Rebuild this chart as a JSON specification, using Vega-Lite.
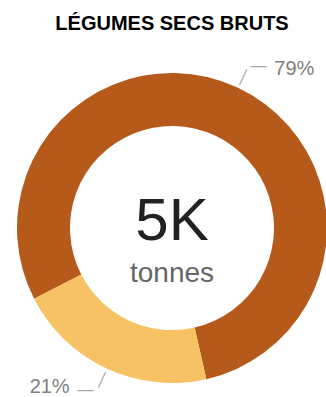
{
  "$schema": "https://vega.github.io/schema/vega-lite/v6.json",
  "autosize": {"type": "none"},
  "width": 308,
  "height": 338,
  "padding": {"left": 18, "top": 59, "right": 0, "bottom": 0},
  "title": {
    "text": "LÉGUMES SECS BRUTS",
    "font": "Liberation Sans",
    "fontSize": 20,
    "fontWeight": "bold",
    "color": "#000000",
    "anchor": "middle",
    "frame": "group",
    "offset": 24
  },
  "datasets": {
    "parts": [
      {"part": "A", "share": 0.79},
      {"part": "B", "share": 0.21}
    ],
    "total": [
      {"total": "5K", "unit": "tonnes"}
    ]
  },
  "data": {"name": "parts"},
  "layer": [
    {
      "mark": {"type": "arc", "innerRadius": 102, "outerRadius": 155},
      "encoding": {
        "theta": {"field": "share", "type": "quantitative", "stack": true, "scale": {"range": [-2.0455, 4.2377]}},
        "color": {"field": "part", "type": "nominal", "scale": {"domain": ["A", "B"], "range": ["#b65a1b", "#f7c263"]}, "legend": null},
        "order": {"field": "share", "type": "quantitative", "sort": "descending"}
      }
    },
    {
      "mark": {"type": "text", "radius": 201, "font": "Liberation Sans", "fontSize": 20, "color": "#808080", "align": "center", "baseline": "middle"},
      "encoding": {
        "theta": {"field": "share", "type": "quantitative", "stack": true, "scale": {"range": [-1.8274, 4.4558]}},
        "text": {"field": "share", "type": "quantitative", "format": ".0%"},
        "order": {"field": "share", "type": "quantitative", "sort": "descending"}
      }
    },
    {
      "mark": {"type": "text", "radius": 167, "text": "—", "angle": -65, "font": "Liberation Sans", "fontSize": 17, "color": "#a8a8a8", "align": "center", "baseline": "middle"},
      "encoding": {
        "theta": {"field": "share", "type": "quantitative", "stack": true, "scale": {"range": [-2.0455, 4.2377]}},
        "order": {"field": "share", "type": "quantitative", "sort": "descending"}
      }
    },
    {
      "mark": {"type": "text", "radius": 184, "text": "—", "font": "Liberation Sans", "fontSize": 16, "color": "#a8a8a8", "align": "center", "baseline": "middle"},
      "encoding": {
        "theta": {"field": "share", "type": "quantitative", "stack": true, "scale": {"range": [-1.9932, 4.2900]}},
        "order": {"field": "share", "type": "quantitative", "sort": "descending"}
      }
    },
    {
      "data": {"name": "total"},
      "mark": {"type": "text", "font": "Liberation Sans", "fontSize": 60, "color": "#222222", "align": "center", "baseline": "alphabetic", "dy": 12},
      "encoding": {
        "text": {"field": "total", "type": "nominal"}
      }
    },
    {
      "data": {"name": "total"},
      "mark": {"type": "text", "font": "Liberation Sans", "fontSize": 28, "color": "#666666", "align": "center", "baseline": "alphabetic", "dy": 54},
      "encoding": {
        "text": {"field": "unit", "type": "nominal"}
      }
    }
  ],
  "resolve": {"scale": {"theta": "independent"}},
  "config": {"view": {"stroke": null}}
}
